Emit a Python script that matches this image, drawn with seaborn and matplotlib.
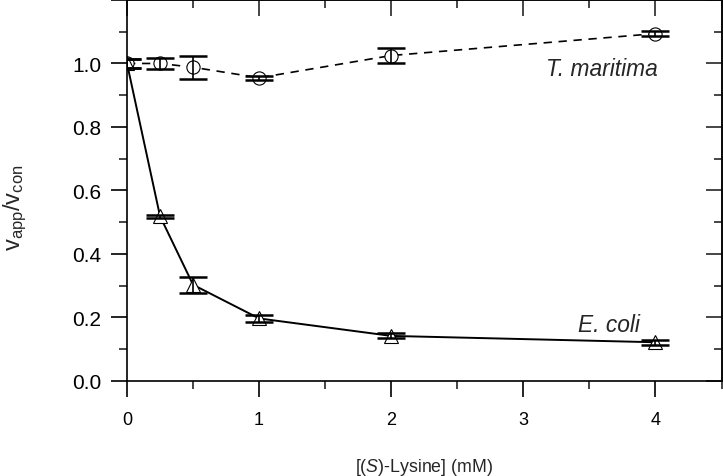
import matplotlib
matplotlib.use("Agg")
import matplotlib.pyplot as plt
import seaborn as sns
import pandas as pd
from matplotlib.ticker import MultipleLocator, FuncFormatter

lysine = [0, 0.25, 0.5, 1, 2, 4]
tm_vals = [1.00, 1.00, 0.988, 0.955, 1.025, 1.094]
tm_err = [0.013, 0.018, 0.036, 0.007, 0.025, 0.008]
ec_vals = [1.00, 0.519, 0.303, 0.197, 0.142, 0.122]
ec_err = [0.013, 0.005, 0.025, 0.012, 0.008, 0.008]

sns.set_theme(style="ticks")
plt.rcParams['font.family'] = ['Liberation Sans', 'DejaVu Sans']
plt.rcParams['mathtext.fontset'] = 'custom'
plt.rcParams['mathtext.it'] = 'Liberation Sans:italic'
plt.rcParams['mathtext.rm'] = 'Liberation Sans'

fig = plt.figure(figsize=(7.23, 4.77), dpi=100)
ax = fig.add_axes([127/723, 1 - 382/477, 1 - 127/723 - 0.002, 382/477 - 0.002])

df = pd.DataFrame({"x": lysine * 2,
                   "y": tm_vals + ec_vals,
                   "s": ["tm"] * 6 + ["ec"] * 6})

sns.lineplot(data=df[df.s == "tm"], x="x", y="y", ax=ax, color="black",
             linestyle=(0, (5, 4)), lw=1.2, marker="o", markersize=9.5,
             markerfacecolor="white", markeredgecolor="black", markeredgewidth=0.8)
sns.lineplot(data=df[df.s == "ec"], x="x", y="y", ax=ax, color="black",
             linestyle="-", lw=1.4, marker="^", markersize=10.5,
             markerfacecolor="white", markeredgecolor="black", markeredgewidth=0.8)
ax.errorbar(lysine, tm_vals, yerr=tm_err, fmt="none", ecolor="black",
            elinewidth=1.2, capsize=10, capthick=1.8, zorder=5)
ax.errorbar(lysine, ec_vals, yerr=ec_err, fmt="none", ecolor="black",
            elinewidth=1.2, capsize=10, capthick=1.8, zorder=5)

ax.set_xlim(0, 4.5)
ax.set_ylim(0, 1.2)
ax.xaxis.set_major_locator(MultipleLocator(1))
ax.xaxis.set_minor_locator(MultipleLocator(0.5))
ax.yaxis.set_major_locator(MultipleLocator(0.2))
ax.yaxis.set_minor_locator(MultipleLocator(0.1))
ax.yaxis.set_major_formatter(FuncFormatter(lambda v, p: "" if v > 1.1 else f"{v:.1f}"))

for side in ["top", "right", "left", "bottom"]:
    ax.spines[side].set_visible(True)
    ax.spines[side].set_linewidth(1.2)
    ax.spines[side].set_color("black")

ax.tick_params(axis="both", which="major", direction="out", length=11.5, width=1.2,
               colors="black")
ax.tick_params(axis="both", which="minor", direction="out", length=5.8, width=1.2)
ax.tick_params(axis="x", which="major", labelsize=13, pad=10)
ax.tick_params(axis="y", which="major", labelsize=15, pad=7)
sec_x = ax.secondary_xaxis("top")
sec_x.xaxis.set_major_locator(MultipleLocator(1))
sec_x.xaxis.set_minor_locator(MultipleLocator(0.5))
sec_x.tick_params(which="major", direction="in", length=11.5, width=1.2, labeltop=False)
sec_x.tick_params(which="minor", direction="in", length=5.8, width=1.2)
sec_x.spines["top"].set_linewidth(1.2)
sec_y = ax.secondary_yaxis("right")
sec_y.yaxis.set_major_locator(MultipleLocator(0.2))
sec_y.yaxis.set_minor_locator(MultipleLocator(0.1))
sec_y.tick_params(which="major", direction="in", length=11.5, width=1.2, labelright=False)
sec_y.tick_params(which="minor", direction="in", length=5.8, width=1.2)
sec_y.spines["right"].set_linewidth(1.2)

ax.set_xlabel(r"[($\mathit{S}$)-Lysine] (mM)", fontsize=12.8, labelpad=20)
ax.set_ylabel(r"$\mathrm{v}_{\mathrm{app}}/\mathrm{v}_{\mathrm{con}}$", fontsize=17)
ax.yaxis.set_label_coords(-(127 - 29) / (723 - 127), (382 - 207) / 382)

ax.text(4.015, 0.965, "T. maritima", style="italic", fontsize=16.4, ha="right", va="baseline")
ax.text(3.88, 0.156, "E. coli", style="italic", fontsize=16.4, ha="right", va="baseline")

fig.savefig("out.png", dpi=100)
